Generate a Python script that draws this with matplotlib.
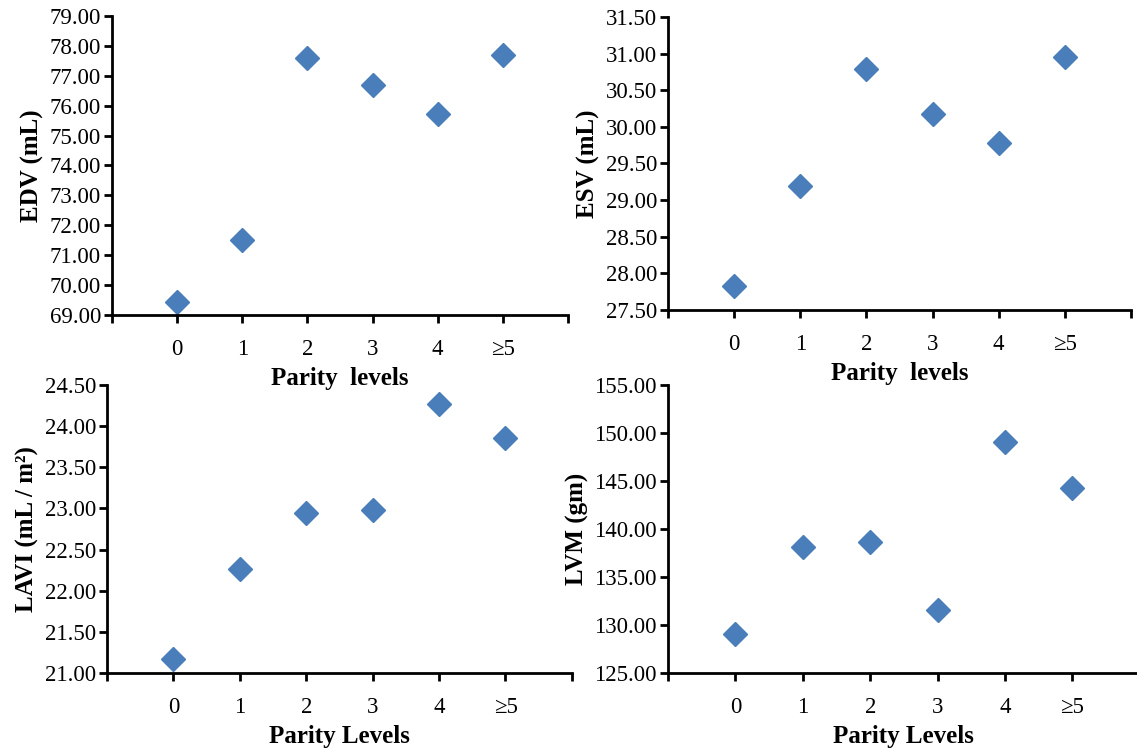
import numpy as np
import matplotlib
matplotlib.use('Agg')
import matplotlib.pyplot as plt

# parity level categories (plotted at x = 1..6)
parity = ['0', '1', '2', '3', '4', '\u22655']

edv = [69.43, 71.51, 77.60, 76.69, 75.72, 77.70]
esv = [27.83, 29.19, 30.79, 30.18, 29.78, 30.95]
lavi = [21.17, 22.26, 22.94, 22.98, 24.27, 23.86]
lvm = [129.06, 138.10, 138.65, 131.56, 149.06, 144.27]

plt.rcParams['font.family'] = ['Liberation Serif', 'DejaVu Serif']

fig = plt.figure(figsize=(11.37, 7.48), dpi=100)

panels = [
    # (rect, values, ylim, ystep, ylabel, xlabel)
    ([0.0985, 0.5789, 0.4011, 0.3997], edv, (69, 79), 1.0, 'EDV (mL)', 'Parity  levels'),
    ([0.5875, 0.5856, 0.4072, 0.3917], esv, (27.5, 31.5), 0.5, 'ESV (mL)', 'Parity  levels'),
    ([0.0941, 0.1003, 0.4089, 0.3850], lavi, (21, 24.5), 0.5, 'LAVI (mL / m\u00b2)', 'Parity Levels'),
    ([0.5875, 0.1003, 0.4150, 0.3850], lvm, (125, 155), 5.0, 'LVM (gm)', 'Parity Levels'),
]

x = np.arange(1, len(parity) + 1)

for rect, vals, ylim, ystep, ylab, xlab in panels:
    ax = fig.add_axes(rect)
    ax.patch.set_visible(False)  # so labels of the upper panels are not hidden
    ax.plot(x, vals, linestyle='none', marker='D', markersize=12,
            color='#4a7ebb', markeredgecolor='#4a7ebb', clip_on=False)
    ax.set_xlim(0, 7)
    ax.set_ylim(*ylim)
    ax.set_xticks(np.arange(0, 8))
    ax.set_xticklabels([''] + parity + [''])
    yt = np.arange(ylim[0], ylim[1] + ystep / 2, ystep)
    ax.set_yticks(yt)
    ax.set_yticklabels(['%.2f' % v for v in yt])
    for s in ['top', 'right']:
        ax.spines[s].set_visible(False)
    for s in ['left', 'bottom']:
        ax.spines[s].set_linewidth(2.0)
    ax.tick_params(axis='both', direction='out', length=6, width=2.0, labelsize=16.5)
    ax.tick_params(axis='x', pad=11)
    ax.tick_params(axis='y', pad=2)
    ax.set_ylabel(ylab, fontsize=18, fontweight='bold', labelpad=4)
    ax.set_xlabel(xlab, fontsize=18, fontweight='bold', labelpad=5)

fig.savefig('out.png', dpi=100)
